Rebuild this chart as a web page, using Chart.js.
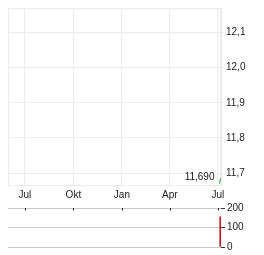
<!DOCTYPE html>
<html>
<head>
<meta charset="utf-8">
<script src="https://cdn.jsdelivr.net/npm/chart.js@4"></script>
<style>
  body { margin: 0; background: #fff; width: 264px; height: 255px; overflow: hidden; position: relative; }
  canvas { position: absolute; left: 0; }
  #priceChart { top: 0; }
  #volChart { top: 200px; }
</style>
</head>
<body>
<canvas id="priceChart" width="264" height="202"></canvas>
<canvas id="volChart" width="264" height="55"></canvas>
<script>
// x axis in days since 1 Jul
const monthDays = [0, 92, 184, 275, 366];
const monthLabels = ['Jul', 'Okt', 'Jan', 'Apr', 'Jul'];

const priceTicks = [11.7, 11.8, 11.9, 12.0, 12.1];
const priceDays = [369, 371];
const priceValues = [11.67, 11.685];
const lastPrice = 11.69;
const lastLabel = '11,690';

const volTicks = [0, 100, 200];
const volDays = [371];
const volValues = [155];

Chart.defaults.font.family = 'Arial, "Liberation Sans", sans-serif';
Chart.defaults.font.size = 10;
Chart.defaults.color = '#222';

const gridCol = '#ebebeb';

const frame = {
  id: 'frame',
  beforeDatasetsDraw(chart) {
    const a = chart.chartArea;
    const ctx = chart.ctx;
    ctx.save();
    ctx.strokeStyle = gridCol;
    ctx.lineWidth = 1;
    ctx.strokeRect(a.left + 0.5, a.top + 0.5, a.right - a.left - 1, a.bottom - a.top);
    ctx.restore();
  }
};

const lastTag = {
  id: 'lastTag',
  afterDatasetsDraw(chart) {
    const ctx = chart.ctx;
    const x = chart.scales.x.getPixelForValue(priceDays[priceDays.length - 1]) - 6;
    const y = chart.scales.y.getPixelForValue(lastPrice);
    ctx.save();
    ctx.font = '10px Arial, "Liberation Sans", sans-serif';
    const w = ctx.measureText(lastLabel).width;
    ctx.fillStyle = '#fff';
    ctx.fillRect(x - w - 2, y - 6, w + 4, 12);
    ctx.fillStyle = '#111';
    ctx.textAlign = 'right';
    ctx.textBaseline = 'middle';
    ctx.fillText(lastLabel, x, y + 1);
    ctx.restore();
  }
};

new Chart(document.getElementById('priceChart'), {
  type: 'line',
  data: {
    datasets: [{
      data: priceDays.map((d, i) => ({ x: d, y: priceValues[i] })),
      borderColor: '#2ea02e',
      borderWidth: 1,
      pointRadius: 0,
      tension: 0
    }]
  },
  options: {
    responsive: false,
    animation: false,
    layout: { padding: { left: 8, top: 7, right: 0, bottom: 0 } },
    plugins: { legend: { display: false }, tooltip: { enabled: false } },
    scales: {
      x: {
        type: 'linear',
        min: -32,
        max: 372,
        afterBuildTicks: s => { s.ticks = monthDays.map(v => ({ value: v })); },
        afterFit: s => { s.height = 17; },
        ticks: { callback: (v, i) => monthLabels[i], padding: 4, maxRotation: 0 },
        grid: { color: gridCol, drawTicks: false },
        border: { color: gridCol }
      },
      y: {
        position: 'right',
        min: 11.666,
        max: 12.17,
        afterBuildTicks: s => { s.ticks = priceTicks.map(v => ({ value: v })); },
        afterFit: s => { s.width = 43; },
        ticks: { callback: v => v.toFixed(1).replace('.', ','), padding: 2 },
        grid: { color: gridCol, tickLength: 3 },
        border: { color: gridCol }
      }
    }
  },
  plugins: [frame, lastTag]
});

const monthMarks = {
  id: 'monthMarks',
  afterDraw(chart) {
    const ctx = chart.ctx;
    const top = chart.chartArea.top;
    ctx.save();
    ctx.strokeStyle = '#222';
    ctx.lineWidth = 1;
    monthDays.forEach(d => {
      const x = Math.round(chart.scales.x.getPixelForValue(d)) + 0.5;
      ctx.beginPath();
      ctx.moveTo(x, top);
      ctx.lineTo(x, top + 2.5);
      ctx.stroke();
    });
    ctx.restore();
  }
};

new Chart(document.getElementById('volChart'), {
  type: 'bar',
  data: {
    datasets: [{
      data: volDays.map((d, i) => ({ x: d, y: volValues[i] })),
      backgroundColor: '#c0141e',
      barThickness: 1.5
    }]
  },
  options: {
    responsive: false,
    animation: false,
    layout: { padding: { left: 8, top: 8, right: 0, bottom: 8 } },
    plugins: { legend: { display: false }, tooltip: { enabled: false } },
    scales: {
      x: {
        type: 'linear',
        min: -32,
        max: 372,
        offset: false,
        display: false
      },
      y: {
        position: 'right',
        min: 0,
        max: 200,
        afterBuildTicks: s => { s.ticks = volTicks.map(v => ({ value: v })); },
        afterFit: s => { s.width = 43; },
        ticks: { padding: 2 },
        grid: { color: '#c8c8c8', tickColor: '#333', tickLength: 4 },
        border: { display: false }
      }
    }
  },
  plugins: [monthMarks]
});
</script>
</body>
</html>
